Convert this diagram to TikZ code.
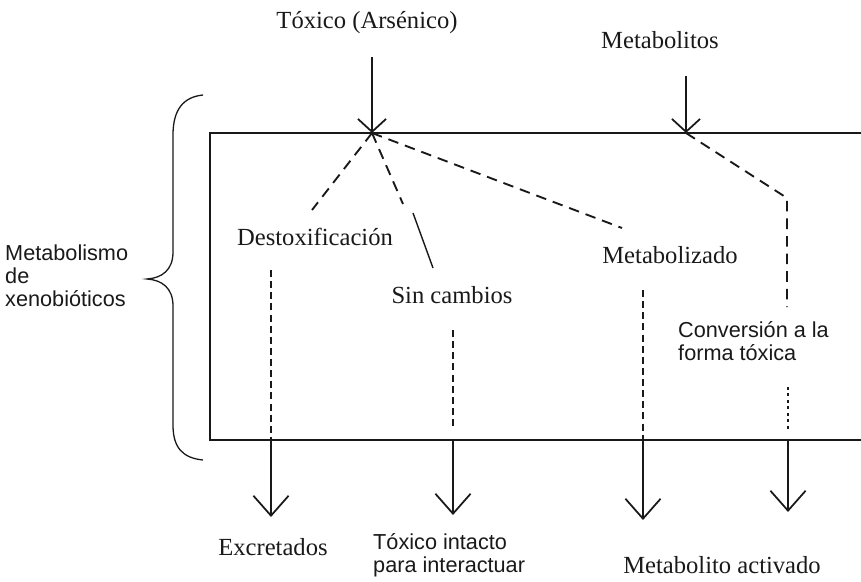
\documentclass[tikz,border=0pt]{standalone}
\usepackage{fontspec}
\setmainfont{Liberation Serif}
\setsansfont{Liberation Sans}
\usetikzlibrary{arrows.meta, positioning}
\definecolor{ink}{RGB}{25,25,25}
\tikzset{
  lbl/.style={inner sep=0pt, text=ink, font=\fontsize{21}{25}\selectfont},
  slbl/.style={inner sep=0pt, text=ink, align=left, font=\sffamily\fontsize{18.5}{19.5}\selectfont},
  frame/.style={draw=ink, line width=1.6pt},
  inarrow/.style={-{Straight Barb[length=11pt, width=24pt]}, line width=1.5pt, draw=ink},
  outarrow/.style={-{Straight Barb[length=17pt, width=30pt]}, line width=1.5pt, draw=ink},
  route/.style={line width=1.6pt, draw=ink, dash pattern=on 9pt off 6pt},
  drop/.style={line width=1.6pt, draw=ink, dash pattern=on 6pt off 3.5pt},
  dots/.style={line width=1.6pt, draw=ink, dash pattern=on 2.5pt off 3pt},
}

\begin{document}
\begin{tikzpicture}[x=0.03cm, y=-0.03cm]
  \useasboundingbox (0,0) rectangle (861,581);

  % caja y llave
  \draw[frame] (880,133) -- (210,133) -- (210,440) -- (880,440);
  \draw[ink, line width=1.1pt] (203,95) .. controls (183,97) and (173,110) .. (173,135)
    -- (173,252) .. controls (173,270) and (162,278) .. (147,279)
    .. controls (162,280) and (173,288) .. (173,306)
    -- (173,425) .. controls (173,448) and (183,458) .. (203,460);

  % textos
  \node[slbl, anchor=west] (xeno) at (5,276) {Metabolismo\\de\\xenobióticos};
  \node[lbl] (tox)    at (367,23)  {Tóxico (Arsénico)};
  \node[lbl] (metb)   at (660,40)  {Metabolitos};
  \node[lbl] (destox) at (315,237) {Destoxificación};
  \node[lbl] (sincam) at (452,295) {Sin cambios};
  \node[lbl] (metz)   at (670,255) {Metabolizado};
  \node[slbl, anchor=west] (conv) at (678,341) {Conversión a la\\forma tóxica};
  \node[lbl] (excr)   at (273,547) {Excretados};
  \node[slbl, anchor=west] (intac) at (373,555) {Tóxico intacto\\para interactuar};
  \node[lbl] (activ)  at (722,565) {Metabolito activado};

  % puntos de paso
  \coordinate (hubA) at (372,133);
  \coordinate (hubB) at (686,133);
  \coordinate (toxin) at (372,57);
  \coordinate (metin) at (686,76);
  \coordinate (dA) at (312,210);
  \coordinate (sA) at (403,204);
  \coordinate (sB) at (413,213);
  \coordinate (sC) at (433,268);
  \coordinate (mA) at (622,228);
  \coordinate (cA) at (787,198);
  \coordinate (cB) at (787,307);

  % entradas
  \draw[inarrow] (toxin) -- (hubA);
  \draw[inarrow] (metin) -- (hubB);

  % rutas
  \draw[route] (hubA) -- (dA);
  \draw[route] (hubA) -- (sA);
  \draw[ink, line width=1.2pt] (sB) -- (sC);
  \draw[route] (hubA) -- (mA);
  \draw[route] (hubB) -- (cA) -- (cB);

  % columnas de salida
  \coordinate (exT) at (271,270);  \coordinate (exB) at (271,440);  \coordinate (exE) at (271,517);
  \coordinate (scT) at (453,330);  \coordinate (scM) at (453,430);
  \coordinate (scB) at (453,440);  \coordinate (scE) at (453,515);
  \coordinate (mzT) at (643,290);  \coordinate (mzB) at (643,440);  \coordinate (mzE) at (643,520);
  \coordinate (cvT) at (788,387);  \coordinate (cvM) at (788,430);
  \coordinate (cvB) at (788,440);  \coordinate (cvE) at (788,512);

  \draw[drop] (exT) -- (exB);
  \draw[drop] (scT) -- (scM);
  \draw[drop] (mzT) -- (mzB);
  \draw[dots] (cvT) -- (cvM);

  \draw[outarrow] (exB) -- (exE);
  \draw[outarrow] (scB) -- (scE);
  \draw[outarrow] (mzB) -- (mzE);
  \draw[outarrow] (cvB) -- (cvE);
\end{tikzpicture}
\end{document}
